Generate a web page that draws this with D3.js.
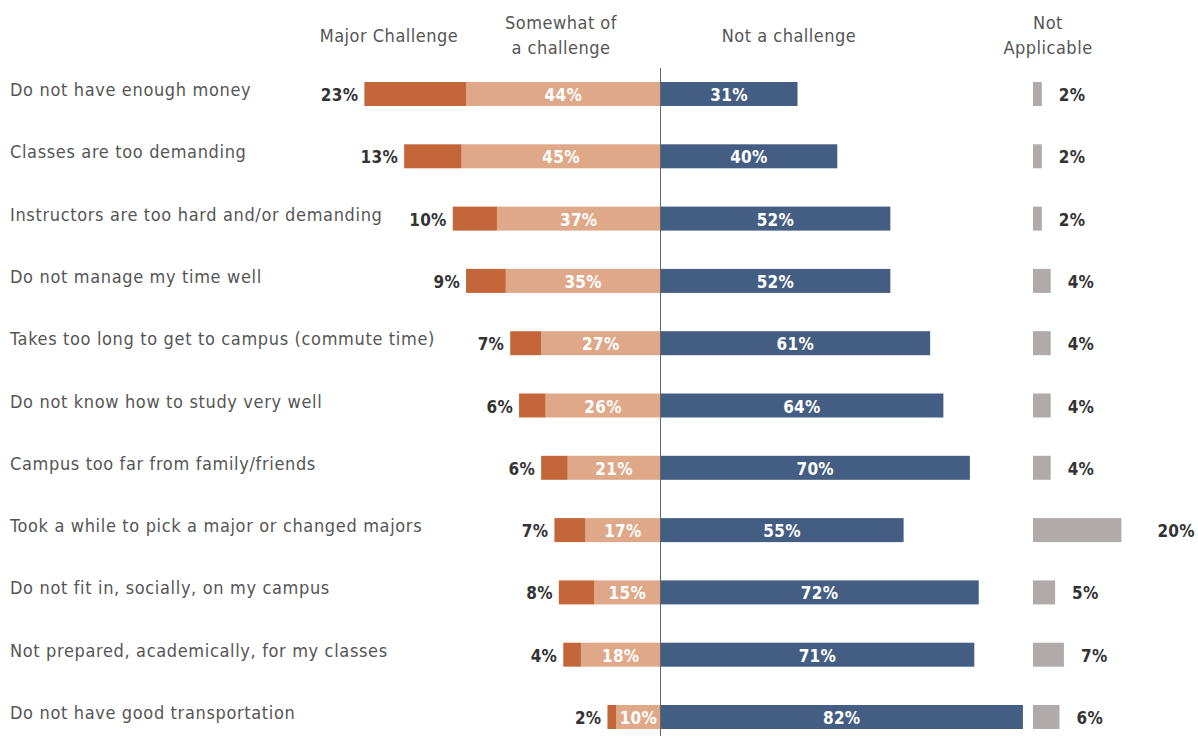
<!DOCTYPE html>
<html><head><meta charset="utf-8">
<script src="https://cdn.jsdelivr.net/npm/d3@7"></script>
<style>body{margin:0;background:#fff;} svg{display:block;}</style>
</head><body><svg id="c" width="1198" height="736"></svg>
<script>
const categories = [
  "Do not have enough money",
  "Classes are too demanding",
  "Instructors are too hard and/or demanding",
  "Do not manage my time well",
  "Takes too long to get to campus (commute time)",
  "Do not know how to study very well",
  "Campus too far from family/friends",
  "Took a while to pick a major or changed majors",
  "Do not fit in, socially, on my campus",
  "Not prepared, academically, for my classes",
  "Do not have good transportation"
];
const majorChallenge = [23,13,10,9,7,6,6,7,8,4,2];
const somewhatChallenge = [44,45,37,35,27,26,21,17,15,18,10];
const notChallenge = [31,40,52,52,61,64,70,55,72,71,82];
const notApplicable = [2,2,2,4,4,4,4,20,5,7,6];
const headers = [
  {lines:["Major Challenge"], x:389},
  {lines:["Somewhat of","a challenge"], x:561},
  {lines:["Not a challenge"], x:789},
  {lines:["Not","Applicable"], x:1048}
];

const svg = d3.select("#c");
const font = "'DejaVu Sans Condensed', 'DejaVu Sans', sans-serif";
const center = 660.5, naStart = 1033;
const w = d3.scaleLinear().domain([0,100]).range([0,442]);
const y = d3.scalePoint().domain(categories).range([94,717]);
const bh = 24;
const data = categories.map((c,i)=>({c, m:majorChallenge[i], s:somewhatChallenge[i], n:notChallenge[i], na:notApplicable[i]}));

// headers
headers.forEach(h=>{
  const t = svg.append("text").attr("x",h.x).attr("text-anchor","middle")
    .attr("font-family",font).attr("font-size",18).attr("fill","#555")
    .attr("letter-spacing","0.5px");
  const y0 = h.lines.length===1 ? 42 : 29;
  h.lines.forEach((l,k)=>t.append("tspan").attr("x",h.x).attr("y",y0+k*25).text(l));
});

// category labels
svg.selectAll("text.cat").data(data).join("text").attr("class","cat")
  .attr("x",10).attr("y",d=>y(d.c)+2).attr("font-family",font).attr("font-size",18)
  .attr("letter-spacing","0.65px")
  .attr("fill","#555").text(d=>d.c);

const g = svg.append("g");
// somewhat
g.selectAll("rect.s").data(data).join("rect").attr("x",d=>center-w(d.s)).attr("y",d=>y(d.c)-bh/2)
  .attr("width",d=>w(d.s)).attr("height",bh).attr("fill","#DFA888");
// major
g.selectAll("rect.m").data(data).join("rect").attr("x",d=>center-w(d.s)-w(d.m)).attr("y",d=>y(d.c)-bh/2)
  .attr("width",d=>w(d.m)).attr("height",bh).attr("fill","#C3673A");
// not a challenge
g.selectAll("rect.n").data(data).join("rect").attr("x",center).attr("y",d=>y(d.c)-bh/2)
  .attr("width",d=>w(d.n)).attr("height",bh).attr("fill","#445D82");
// NA
g.selectAll("rect.na").data(data).join("rect").attr("x",naStart).attr("y",d=>y(d.c)-bh/2)
  .attr("width",d=>w(d.na)).attr("height",bh).attr("fill","#B0ABAA");

// center line
svg.append("line").attr("x1",center).attr("x2",center).attr("y1",68).attr("y2",736)
  .attr("stroke","#666").attr("stroke-width",1);

const lab = (sel)=>sel.attr("font-family",font).attr("font-size",17).attr("font-weight","bold")
  .attr("letter-spacing","0.3px").attr("dominant-baseline","central");
lab(svg.selectAll("text.ml").data(data).join("text").attr("class","ml")
  .attr("x",d=>center-w(d.s)-w(d.m)-6).attr("y",d=>y(d.c)+1).attr("text-anchor","end")
  .attr("fill","#333").text(d=>d.m+"%"));
lab(svg.selectAll("text.sl").data(data).join("text").attr("class","sl")
  .attr("x",d=>center-w(d.s)/2).attr("y",d=>y(d.c)+1).attr("text-anchor","middle")
  .attr("fill","#fff").text(d=>d.s+"%"));
lab(svg.selectAll("text.nl").data(data).join("text").attr("class","nl")
  .attr("x",d=>center+w(d.n)/2).attr("y",d=>y(d.c)+1).attr("text-anchor","middle")
  .attr("fill","#fff").text(d=>d.n+"%"));
lab(svg.selectAll("text.nal").data(data).join("text").attr("class","nal")
  .attr("x",d=>naStart+w(d.na)+(d.na>=20?36:17)).attr("y",d=>y(d.c)+1).attr("text-anchor","start")
  .attr("fill","#333").text(d=>d.na+"%"));
</script></body></html>
